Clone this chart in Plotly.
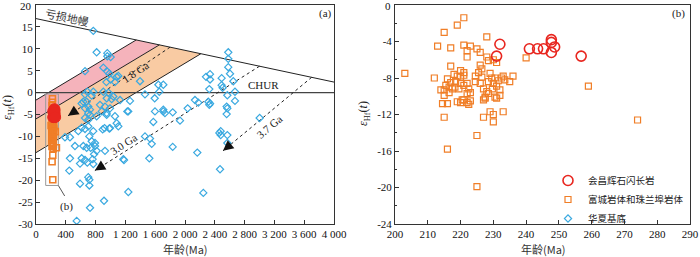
import math
import plotly.graph_objects as go

# ---------------- data ----------------
# Huaxia basement (zircon Hf) : age (Ma), eHf(t)
hx_age = [769, 814, 957, 957, 1002, 658, 904, 957, 984, 1105, 1002, 945, 1060, 1083, 1396, 1642, 1709,
          1655, 1463, 1593, 1262, 1226, 1172,
          769, 747, 904, 971, 1038, 949, 1016, 1128, 635, 680, 613, 702, 658, 725, 859, 926, 993, 882,
          949, 725, 814, 658, 702, 1060, 1239, 658, 689, 702, 949,
          1575, 1731, 1835, 1933, 2036, 2134, 2179, 2313, 2336, 2326, 2282, 2336, 2336, 2326, 2492, 2492,
          2505, 2581, 2581, 2581, 2604, 2648, 2671, 2568, 2671, 2559, 2568, 2559, 3002, 2461, 2479, 2479,
          2568, 2568, 2470, 2165, 1835, 1530, 1553, 1521, 1463, 2246, 1597, 1709, 1709,
          389, 456, 568, 523, 635, 456, 613, 658, 591, 447, 702, 716, 747, 734, 680, 792, 792, 814, 779,
          761, 769, 689, 702, 716, 591, 716, 895, 984, 1083, 1105, 926, 1181, 725, 546, 913, 1239,
          769, 658, 613, 993, 920]
hx_ehf = [14.1, 9.2, 9.0, 8.3, 8.1, 4.9, 5.7, 4.8, 4.3, 3.8, 3.0, 2.4, 2.4, 3.6, 2.6, 1.8, 1.8,
          0.2, -0.4, -1.3, -1.9, -4.3, -15.2,
          0.2, -0.7, 0.2, 0.0, -0.9, -1.3, -1.5, -1.7, -2.1, -2.1, -2.5, -3.2, -3.6, -3.9, -2.8, -3.2, -3.6, -4.3,
          -4.7, -5.1, -5.4, -5.8, -6.2, -5.4, -4.3, -0.4, 0.2, -4.7, -5.1,
          -6.7, -4.7, -4.5, -6.4, -3.6, -1.7, -2.3, -2.1, -2.5, -2.8, 3.6, 4.2, 3.0, 0.8, 3.3, 1.7,
          1.1, 9.2, 7.7, 5.8, 4.3, 2.6, 0.2, -0.6, -1.9, -3.2, -3.6, -4.9, -5.8, -9.2, -8.8, -9.7,
          -9.7, -11.5, -17.5, -13.7, -12.4, -10.5, -11.7, -15.0, -10.0, -22.9, -4.3, -3.9, -4.3,
          -10.2, -10.2, -8.8, -12.2, -12.2, -15.0, -15.0, -15.4, -16.2, -17.8, -7.7, -10.0, -11.1, -12.6, -12.6, -11.5, -12.2, -13.3, -14.1,
          -15.2, -16.3, -16.0, -19.3, -19.9, -20.8, -21.2, -8.4, -8.2, -7.0, -7.7, -13.3, -15.4, -26.3, -29.3, -24.7, -22.7,
          -8.8, -8.3, -8.0, -8.1, -8.1]

# Fucheng & Zhulanbu plutons
fc_age = [221.0, 219.0, 215.0, 213.0, 217.0, 221.0, 223.0, 222.0, 228.0, 225.0, 226.0, 222.0, 228.0, 231.0,
          230.0, 240.0, 203.0, 212.0, 217.0, 220.0, 221.0, 218.0, 219.0, 220.0, 221.0, 216.0, 217.0, 215.5,
          216.5, 217.5, 214.0, 215.0, 216.5, 215.0, 214.5, 216.0, 215.0, 218.5, 220.0, 221.0, 218.3, 219.5,
          222.0, 222.5, 223.0, 222.0, 219.0, 220.5, 222.0, 222.5, 223.0, 224.5, 225.5, 226.5, 224.5, 226.0,
          226.0, 226.5, 228.5, 227.0, 228.0, 227.5, 228.5, 227.0, 227.5, 229.0, 229.5, 228.5, 230.0, 229.7,
          230.5, 231.5, 232.5, 231.0, 232.0, 232.0, 230.5, 231.0, 233.0, 233.5, 235.0, 236.0, 229.0, 230.0,
          230.0, 233.0, 227.0, 221.0, 220.0, 259.0, 274.0, 216.0, 225.0, 225.0]
fc_ehf = [-1.4, -2.2, -3.0, -4.5, -4.7, -4.4, -4.5, -5.0, -3.5, -4.8, -5.2, -5.7, -5.7, -6.3,
          -6.0, -5.8, -7.5, -8.0, -6.7, -7.2, -7.4, -7.6, -7.8, -7.9, -7.7, -8.1, -8.5, -8.8,
          -9.0, -9.2, -9.3, -9.3, -9.6, -9.9, -10.8, -10.8, -12.3, -8.4, -8.6, -8.8, -9.0, -9.2,
          -8.6, -9.2, -9.6, -9.7, -10.6, -10.4, -10.7, -10.9, -10.5, -7.8, -7.4, -7.9, -8.4, -8.6,
          -6.6, -7.0, -6.1, -9.2, -9.5, -10.1, -9.7, -10.4, -10.2, -7.5, -8.0, -8.4, -8.6, -9.2,
          -8.0, -8.3, -8.0, -8.9, -9.3, -9.9, -10.1, -10.2, -7.8, -8.2, -8.4, -7.8, -11.7, -12.0,
          -12.8, -11.7, -12.3, -10.4, -10.7, -8.9, -12.6, -15.8, -14.3, -19.9]

# Huichang pyroxene diorite
hc_age = [232.0, 231.0, 241.0, 243.5, 245.3, 247.7, 247.7, 247.7, 248.7, 256.8]
hc_ehf = [-4.3, -5.6, -4.8, -4.8, -4.8, -3.8, -4.1, -5.2, -4.6, -5.6]

# reference evolution lines (panel a)
dm_ends_age = [0, 4000]
dm_ends_ehf = [16.9, 2.4]
crust_intercepts = [-1.7, -6.0, -13.7]      # eHf at t = 0 of the band boundaries
crust_slope = 0.0102                         # eHf per Ma
model_ages = [1800, 3000, 3700]              # dotted model-age lines
model_tip_age = [430, 790, 2510]
model_tip_ehf = [-5.3, -17.8, -13.3]
model_labels = ["1.8 Ga", "3.0 Ga", "3.7 Ga"]
model_label_age = [1338, 1181, 3128]
model_label_ehf = [4.6, -11.8, -7.9]
model_label_angle = [-34, -33, -40]
box_age = [130, 300]
box_ehf = [-0.3, -21.2]
leader_age = [300, 385]
leader_ehf = [-21.2, -23.6]

xa_range = [0, 4000]
ya_range = [-30, 20]
xa_ticks = list(range(0, 4001, 400))
xa_text = ["{:,}".format(v).replace(",", " ") for v in xa_ticks]
ya_ticks = list(range(-30, 21, 5))
xb_ticks = list(range(200, 291, 10))
yb_ticks = list(range(-24, 1, 4))

# ---------------- helpers ----------------
def dm(t):
    return dm_ends_ehf[0] + (dm_ends_ehf[1] - dm_ends_ehf[0]) * t / (dm_ends_age[1] - dm_ends_age[0])

def meet(c):
    dm_s = (dm_ends_ehf[1] - dm_ends_ehf[0]) / (dm_ends_age[1] - dm_ends_age[0])
    t = (dm_ends_ehf[0] - c) / (crust_slope - dm_s)
    return t, c + crust_slope * t

FONT = "Liberation Serif, Noto Sans CJK SC, serif"
CJK = "Noto Sans CJK SC, Liberation Serif, serif"
RED = "#e8261f"
ORANGE = "#f07e27"
BLUE = "#3aa9e0"
PINK = "#f5b3bb"
PEACH = "#f9cba3"
AX = "#333333"

W, H = 700, 257
MT, MB = 5, 33
PH = H - MT - MB
XA_DOM = [36 / W, 334 / W]
XB_DOM = [395 / W, 690 / W]
# pixel scale of panel a (for arrowhead direction only)
SX = (XA_DOM[1] - XA_DOM[0]) * W / (xa_range[1] - xa_range[0])
SY = PH / (ya_range[1] - ya_range[0])

def py(p):
    return 1 - (p - MT) / PH

fig = go.Figure()

ends = [meet(c) for c in crust_intercepts]
# pink band
fig.add_trace(go.Scatter(
    x=[0, ends[0][0], ends[1][0], 0], y=[crust_intercepts[0], ends[0][1], ends[1][1], crust_intercepts[1]],
    fill="toself", fillcolor=PINK, line=dict(width=0), mode="lines", showlegend=False, hoverinfo="skip"))
# orange band
fig.add_trace(go.Scatter(
    x=[0, ends[1][0], ends[2][0], 0], y=[crust_intercepts[1], ends[1][1], ends[2][1], crust_intercepts[2]],
    fill="toself", fillcolor=PEACH, line=dict(width=0), mode="lines", showlegend=False, hoverinfo="skip"))
# band boundaries
for c, (te, ee) in zip(crust_intercepts, ends):
    fig.add_trace(go.Scatter(x=[0, te], y=[c, ee], mode="lines", line=dict(color="#222", width=1),
                             showlegend=False, hoverinfo="skip"))
# depleted mantle
fig.add_trace(go.Scatter(x=dm_ends_age, y=dm_ends_ehf, mode="lines", line=dict(color="#222", width=1),
                         showlegend=False, hoverinfo="skip"))
# CHUR
fig.add_trace(go.Scatter(x=xa_range, y=[0, 0], mode="lines", line=dict(color="#444", width=1.2),
                         showlegend=False, hoverinfo="skip"))
# model age dotted lines + arrowheads
for T, ta, te in zip(model_ages, model_tip_age, model_tip_ehf):
    fig.add_trace(go.Scatter(x=[T, ta], y=[dm(T), te], mode="lines",
                             line=dict(color="#222", width=1, dash="dot"), showlegend=False, hoverinfo="skip"))
    dxp = (T - ta) * SX
    dyp = (dm(T) - te) * SY
    L = math.hypot(dxp, dyp)
    fig.add_annotation(x=ta, y=te, ax=12 * dxp / L, ay=-12 * dyp / L,
                       xref="x", yref="y", text="", showarrow=True,
                       arrowhead=2, arrowsize=1.6, arrowwidth=1.3, arrowcolor="#111")
# box (b) and leader
fig.add_trace(go.Scatter(x=[box_age[0], box_age[1], box_age[1], box_age[0], box_age[0]],
                         y=[box_ehf[0], box_ehf[0], box_ehf[1], box_ehf[1], box_ehf[0]],
                         mode="lines", line=dict(color="#9a9a9a", width=1), showlegend=False, hoverinfo="skip"))
fig.add_trace(go.Scatter(x=leader_age, y=leader_ehf, mode="lines", line=dict(color="#555", width=1),
                         showlegend=False, hoverinfo="skip"))

# data in panel a
fig.add_trace(go.Scatter(x=hx_age, y=hx_ehf, mode="markers", name="华夏基底", legendrank=3,
                         marker=dict(symbol="diamond-open", size=5.5, color=BLUE, line=dict(width=1.2, color=BLUE))))
fig.add_trace(go.Scatter(x=fc_age, y=fc_ehf, mode="markers", showlegend=False,
                         marker=dict(symbol="square-open", size=6, color=ORANGE, line=dict(width=1.6, color=ORANGE))))
fig.add_trace(go.Scatter(x=hc_age, y=hc_ehf, mode="markers", showlegend=False,
                         marker=dict(symbol="circle", size=11, color=RED, line=dict(width=1, color=RED))))

# panel b
fig.add_trace(go.Scatter(x=fc_age, y=fc_ehf, mode="markers", name="富城岩体和珠兰埠岩体", legendrank=2,
                         xaxis="x2", yaxis="y2",
                         marker=dict(symbol="square-open", size=6, color=ORANGE, line=dict(width=1.2, color=ORANGE))))
fig.add_trace(go.Scatter(x=hc_age, y=hc_ehf, mode="markers", name="会昌辉石闪长岩", legendrank=1,
                         xaxis="x2", yaxis="y2",
                         marker=dict(symbol="circle-open", size=10, color=RED, line=dict(width=1.6, color=RED))))

common = dict(showline=True, linecolor=AX, linewidth=1, mirror=True, ticks="inside", ticklen=4,
              tickcolor=AX, showgrid=False, zeroline=False, ticklabeloverflow="allow",
              tickfont=dict(family=FONT, size=11, color="#111"))

# the topmost y labels are written as annotations (plotly drops them at the page edge)
ya_text = [str(v) for v in ya_ticks[:-1]] + [""]
yb_text = [str(v) for v in yb_ticks[:-1]] + [""]

fig.update_layout(
    width=W, height=H, margin=dict(l=0, r=0, t=MT, b=MB, autoexpand=False),
    paper_bgcolor="white", plot_bgcolor="white",
    font=dict(family=FONT, size=11, color="#111"),
    xaxis=dict(domain=XA_DOM, range=xa_range, tickvals=xa_ticks, ticktext=xa_text, **common),
    yaxis=dict(range=ya_range, tickvals=ya_ticks, ticktext=ya_text, **common),
    xaxis2=dict(domain=XB_DOM, range=[200, 290], tickvals=xb_ticks,
                ticktext=[str(v) for v in xb_ticks], anchor="y2", **common),
    yaxis2=dict(range=[-24, 0], tickvals=yb_ticks, ticktext=yb_text, anchor="x2",
                minor=dict(ticks="inside", ticklen=2, tickcolor=AX, dtick=2, tick0=0), **common),
    legend=dict(x=548 / W, y=py(166), xanchor="left", yanchor="top", bgcolor="rgba(0,0,0,0)",
                font=dict(family=CJK, size=9.5, color="#222"), tracegroupgap=0),
    showlegend=True,
)

# top tick labels
fig.add_annotation(x=XA_DOM[0], y=ya_ticks[-1], xref="paper", yref="y", text=str(ya_ticks[-1]),
                   xanchor="right", yanchor="middle", xshift=-2, yshift=-1, showarrow=False,
                   font=dict(family=FONT, size=11, color="#111"))
fig.add_annotation(x=XB_DOM[0], y=yb_ticks[-1], xref="paper", yref="y2", text=str(yb_ticks[-1]),
                   xanchor="right", yanchor="middle", xshift=-2, yshift=-1, showarrow=False,
                   font=dict(family=FONT, size=11, color="#111"))

# texts
ann = [
    dict(x=420, y=17.3, xref="x", yref="y", text="亏损地幔", textangle=12, font=dict(family=CJK, size=11, color="#333")),
    dict(x=3060, y=1.7, xref="x", yref="y", text="CHUR", font=dict(family=FONT, size=11, color="#222")),
    dict(x=410, y=-25.9, xref="x", yref="y", text="(b)", font=dict(family=FONT, size=11, color="#222")),
    dict(x=325 / W, y=py(14), xref="paper", yref="paper", text="(a)", font=dict(family=FONT, size=11, color="#222")),
    dict(x=678 / W, y=py(14), xref="paper", yref="paper", text="(b)", font=dict(family=FONT, size=11, color="#222")),
    dict(x=185 / W, y=py(249), xref="paper", yref="paper", text="年龄(Ma)", font=dict(family=CJK, size=11, color="#333")),
    dict(x=543 / W, y=py(249), xref="paper", yref="paper", text="年龄(Ma)", font=dict(family=CJK, size=11, color="#333")),
    dict(x=8 / W, y=py(108), xref="paper", yref="paper", text="<i>ε</i><sub>Hf</sub>(<i>t</i>)", textangle=-90,
         font=dict(family=FONT, size=12, color="#222")),
    dict(x=364 / W, y=py(114), xref="paper", yref="paper", text="<i>ε</i><sub>Hf</sub>(<i>t</i>)", textangle=-90,
         font=dict(family=FONT, size=12, color="#222")),
]
for lab, a, e, ang in zip(model_labels, model_label_age, model_label_ehf, model_label_angle):
    ann.append(dict(x=a, y=e, xref="x", yref="y", text=lab, textangle=ang, font=dict(family=FONT, size=11, color="#222")))
for a in ann:
    fig.add_annotation(showarrow=False, xanchor="center", yanchor="middle", **a)

fig.write_html("out.html", config={"displayModeBar": False},
               post_script="document.body.style.margin='0px';document.body.style.overflow='hidden';")
